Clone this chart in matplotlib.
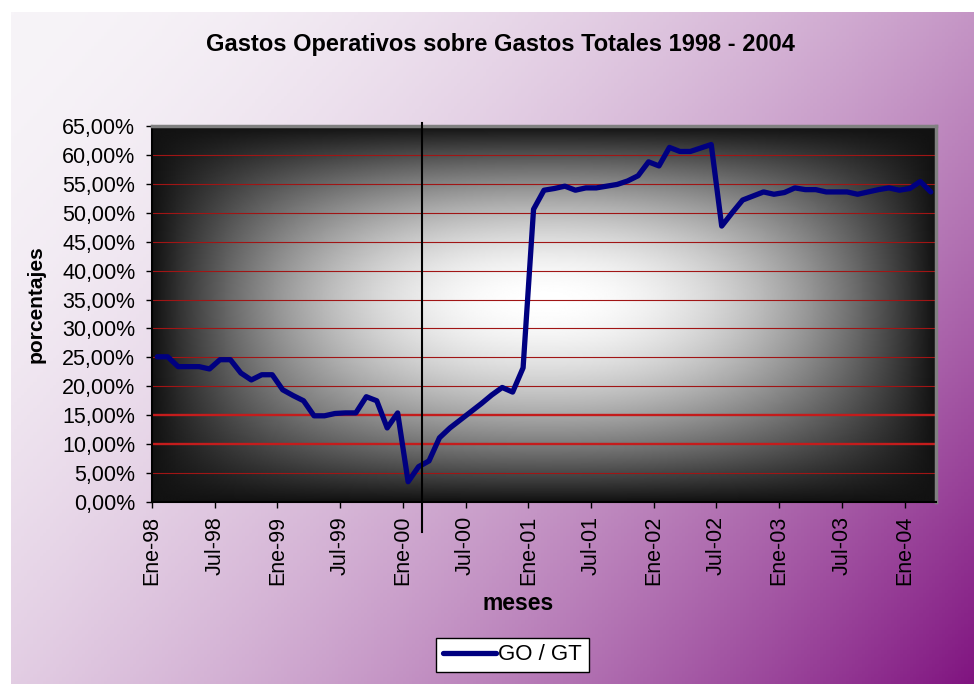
import numpy as np
import matplotlib
matplotlib.use("Agg")
import matplotlib.pyplot as plt
import matplotlib.transforms as mtransforms

plt.rcParams['font.family'] = ['Liberation Sans', 'DejaVu Sans']

# monthly values, Ene-98 .. Mar-04 (percent)
gogt = [25.1, 25.1, 23.4, 23.4, 23.4, 23.0, 24.6, 24.6, 22.3, 21.1, 22.0, 22.0,
        19.4, 18.4, 17.5, 14.9, 14.9, 15.3, 15.4, 15.4, 18.2, 17.5, 12.8, 15.4,
        3.5, 6.1, 7.1, 11.1, 12.8, 14.2, 15.6, 17.0, 18.5, 19.8, 19.0, 23.2,
        50.6, 53.9, 54.2, 54.6, 53.9, 54.3, 54.3, 54.6, 54.9, 55.5, 56.4, 58.8,
        58.1, 61.3, 60.6, 60.6, 61.2, 61.8, 47.7, 50.0, 52.2, 52.9, 53.6, 53.2,
        53.5, 54.3, 54.0, 54.0, 53.6, 53.6, 53.6, 53.2, 53.6, 54.0, 54.3, 53.9,
        54.2, 55.4, 53.6]
tick_labels = ['Ene-98', 'Jul-98', 'Ene-99', 'Jul-99', 'Ene-00', 'Jul-00', 'Ene-01',
               'Jul-01', 'Ene-02', 'Jul-02', 'Ene-03', 'Jul-03', 'Ene-04']
y_ticks = list(range(0, 66, 5))
highlight_levels = [10, 15]
mark_x = 25.3  # vertical marker drawn between Feb-00 and Mar-00

x = np.arange(len(gogt))

fig = plt.figure(figsize=(9.74, 6.84), dpi=100)
fig.patch.set_facecolor('white')

# outer diagonal white -> purple background
bg = fig.add_axes([11 / 974, 0, 963 / 974, 672 / 684])
bg.axis('off')
yy, xx = np.mgrid[0:1:200j, 0:1:300j]
t = np.clip(0.62 * xx + 0.38 * yy, 0, 1) ** 1.8
c0 = np.array([247, 244, 248]) / 255
c1 = np.array([128, 20, 128]) / 255
bg.imshow(c0 + (c1 - c0) * t[..., None], extent=(0, 1, 0, 1), origin='upper', aspect='auto')
bg.set_xlim(0, 1)
bg.set_ylim(0, 1)

ax = fig.add_axes([152 / 974, (684 - 502) / 684, 784 / 974, 376 / 684])

# plot area: dark edges, bright centre
yy, xx = np.mgrid[0:1:300j, 0:1:400j]
dx = np.abs(xx - 0.5) / 0.5
dy = np.abs(yy - 0.46) / np.where(yy < 0.46, 0.46, 0.54)
b = 0.07 + 0.93 * (1 - dx ** 2.1) * (1 - dy ** 1.8)
ax.imshow(b, cmap='gray', vmin=0, vmax=1, extent=(-0.5, len(gogt) - 0.5, 0, 65),
          origin='upper', aspect='auto', zorder=0, interpolation='bilinear')

for v in y_ticks[1:-1]:
    if v in highlight_levels:
        ax.axhline(v, color='#c41c1c', lw=1.7, zorder=1)
    else:
        ax.axhline(v, color='#a01515', lw=0.8, zorder=1)

line, = ax.plot(x, gogt, color='#000080', lw=3.8, solid_joinstyle='round',
                solid_capstyle='round', zorder=3, label='GO / GT')

trans = mtransforms.blended_transform_factory(ax.transData, ax.transAxes)
ax.plot([mark_x, mark_x], [-0.08, 1.008], transform=trans, color='black', lw=1.5,
        clip_on=False, zorder=4)

ax.set_xlim(-0.5, len(gogt) - 0.5)
ax.set_ylim(0, 65)
ax.set_yticks(y_ticks)
ax.set_yticklabels([f"{v:.2f}".replace('.', ',') + '%' for v in y_ticks])
ax.set_xticks(np.arange(len(tick_labels)) * 6 - 0.5)
ax.set_xticklabels(tick_labels, rotation=90)
ax.tick_params(axis='both', direction='out', length=4, width=1, color='black', labelsize=15.5)
ax.tick_params(axis='y', pad=8)
ax.tick_params(axis='x', pad=6)

for s in ['left', 'bottom']:
    ax.spines[s].set_color('black')
    ax.spines[s].set_linewidth(1.5)
for s in ['top', 'right']:
    ax.spines[s].set_color('#808080')
    ax.spines[s].set_linewidth(2.5)

fig.text(500 / 974, 1 - 45 / 684, 'Gastos Operativos sobre Gastos Totales 1998 - 2004',
         ha='center', va='center', fontsize=17, fontweight='bold')
fig.text(36 / 974, 1 - 304 / 684, 'porcentajes', rotation=90, ha='center', va='center',
         fontsize=15, fontweight='bold')
fig.text(518 / 974, 1 - 604 / 684, 'meses', ha='center', va='center',
         fontsize=16.5, fontweight='bold')

leg = fig.legend(handles=[line], loc='center', bbox_to_anchor=(512.5 / 974, 1 - 655 / 684),
                 frameon=True, fancybox=False, edgecolor='black', facecolor='white',
                 framealpha=1, fontsize=16, handlelength=2.4, handletextpad=0.1,
                 borderpad=0.3, borderaxespad=0)
leg.get_frame().set_linewidth(1)

fig.savefig('out.png', dpi=100)
